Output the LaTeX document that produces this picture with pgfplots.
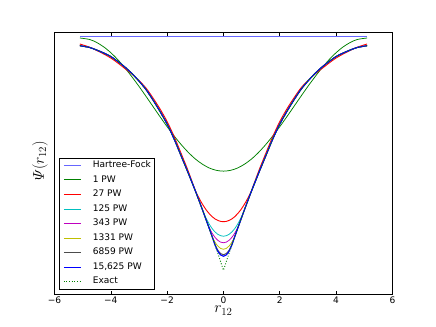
\documentclass[border=0pt]{standalone}
\usepackage[no-math]{fontspec}
\setmainfont{DejaVu Sans}
\usepackage{amsmath}
\usepackage{pgfplots}
\usepackage{pgfplotstable}
\pgfplotsset{compat=1.18}

\definecolor{mplg}{rgb}{0,0.5,0}
\definecolor{mplc}{rgb}{0,0.75,0.75}
\definecolor{mplm}{rgb}{0.75,0,0.75}
\definecolor{mply}{rgb}{0.75,0.75,0}
\definecolor{hfblue}{rgb}{0.4,0.4,1}

% ex = exact, b = 15625 PW, k = 6859, y = 1331, m = 343, c = 125, rd = 27 PW
\pgfplotstableread{
r     ex    b     k     y     m     c     rd
-5.1  248.3 248.3 248.3 248.3 248.3 248.3 250
-4.75 246.5 246.5 246.5 246.5 246.5 246.5 246.8
-4.5  244   244   244   244   244   244   243.5
-4.25 241   241   241   241   241   241   240
-4.0  237.5 237.5 237.5 237.5 237.5 237.5 236
-3.75 232.5 232.5 232.5 232.5 232.5 232.5 231
-3.5  227   227   227   227   227   227   225.5
-3.25 220.5 220.5 220.5 220.5 220.5 220.5 220
-3.0  213   213   213   213   213   213   213.5
-2.75 204.5 204.5 204.5 204.5 204.5 204.5 206
-2.5  194   194   194   194   194   194   196
-2.25 182.5 182.5 182.5 182.5 182.5 182.5 185
-2.0  170   170   170   170   170   170   172.5
-1.75 155   155   155   155   155   155   157.5
-1.5  138   138   138   138   138   138   140.5
-1.25 121   121   121   121   121   121   123
-1.0  103.4 103.4 103.4 103.4 103.4 103.4 103.9
-0.9  96    96    96    96    96    96    97.9
-0.8  88.5  88.5  88.5  88.5  88.5  88.5  92.6
-0.7  80.9  80.9  80.9  80.9  80.9  81.3  87.9
-0.6  73.2  73.2  73.2  73.2  73.3  75.1  83.8
-0.5  65.4  65.4  65.4  65.4  66.4  69.9  80.4
-0.4  57.4  57.4  57.4  57.6  61.0  65.6  77.5
-0.3  49.3  49.3  49.9  52.1  56.9  62.3  75.3
-0.2  41    43.0  44.1  48.2  53.9  59.9  73.8
-0.1  32.5  39.3  40.7  45.8  52.1  58.5  72.8
0     24    38    39.5  45    51.5  58    72.5
0.1   32.5  39.3  40.7  45.8  52.1  58.5  72.8
0.2   41    43.0  44.1  48.2  53.9  59.9  73.8
0.3   49.3  49.3  49.9  52.1  56.9  62.3  75.3
0.4   57.4  57.4  57.4  57.6  61.0  65.6  77.5
0.5   65.4  65.4  65.4  65.4  66.4  69.9  80.4
0.6   73.2  73.2  73.2  73.2  73.3  75.1  83.8
0.7   80.9  80.9  80.9  80.9  80.9  81.3  87.9
0.8   88.5  88.5  88.5  88.5  88.5  88.5  92.6
0.9   96    96    96    96    96    96    97.9
1.0   103.4 103.4 103.4 103.4 103.4 103.4 103.9
1.25  121   121   121   121   121   121   123
1.5   138   138   138   138   138   138   140.5
1.75  155   155   155   155   155   155   157.5
2.0   170   170   170   170   170   170   172.5
2.25  182.5 182.5 182.5 182.5 182.5 182.5 185
2.5   194   194   194   194   194   194   196
2.75  204.5 204.5 204.5 204.5 204.5 204.5 206
3.0   213   213   213   213   213   213   213.5
3.25  220.5 220.5 220.5 220.5 220.5 220.5 220
3.5   227   227   227   227   227   227   225.5
3.75  232.5 232.5 232.5 232.5 232.5 232.5 231
4.0   237.5 237.5 237.5 237.5 237.5 237.5 236
4.25  241   241   241   241   241   241   240
4.5   244   244   244   244   244   244   243.5
4.75  246.5 246.5 246.5 246.5 246.5 246.5 246.8
5.1   248.3 248.3 248.3 248.3 248.3 248.3 250
}\psitab

\pgfplotstableread{
r     g
-5.1  256
-4.75 254.5
-4.5  251.5
-4.25 247.1
-4.0  241.3
-3.75 234.3
-3.5  226.2
-3.25 217.2
-3.0  207.7
-2.75 197.7
-2.5  187.5
-2.25 177.3
-2.0  167.4
-1.75 158.1
-1.5  149.5
-1.25 141.8
-1.0  135.2
-0.75 130.0
-0.5  126.1
-0.25 123.8
0     123
0.25  123.8
0.5   126.1
0.75  130.0
1.0   135.2
1.25  141.8
1.5   149.5
1.75  158.1
2.0   167.4
2.25  177.3
2.5   187.5
2.75  197.7
3.0   207.7
3.25  217.2
3.5   226.2
3.75  234.3
4.0   241.3
4.25  247.1
4.5   251.5
4.75  254.5
5.1   256
}\onepw

\begin{document}
\begin{tikzpicture}
\begin{axis}[
	scale only axis,
	width=448.1pt, height=346.9pt,
	xmin=-6, xmax=6, ymin=0, ymax=261.3,
	xtick={-6,-4,-2,0,2,4,6},
	xticklabels={−6,−4,−2,0,2,4,6},
	ytick=\empty,
	tick align=inside,
	xtick pos=both,
	major tick length=4pt,
	axis line style={line width=1pt},
	tick style={black, line width=0.8pt},
	tick label style={font=\fontsize{12}{14}\selectfont},
	xlabel={$r_{12}$},
	ylabel={$\varPsi(r_{12})$},
	label style={font=\fontsize{20}{24}\selectfont},
	xlabel style={yshift=4pt},
	ylabel style={at={(rel axis cs:-0.012,0.51)}, anchor=south},
	legend cell align=left,
	legend image code/.code={\path (0pt,0pt) -- (3pt,0pt); \draw[#1] (3pt,0pt) -- (22.5pt,0pt);},
	legend style={at={(rel axis cs:0.0134,0.019)}, anchor=south west,
		line width=1pt, font=\fontsize{12}{14}\selectfont,
		inner xsep=5pt, inner ysep=3.6pt, row sep=7.3pt, column sep=15pt,
		nodes={inner sep=0pt, text height=9pt, text depth=3pt}},
]
\coordinate (bbl) at (rel axis cs:-0.16129,-0.125);
\coordinate (btr) at (rel axis cs:1.12903,1.125);

\addplot[hfblue, line width=1.8pt] coordinates {(-5.1,257.3) (5.1,257.3)};
\addlegendentry{Hartree-Fock}

\addplot[mplg, line width=1pt, smooth] table[x=r, y=g] {\onepw};
\addlegendentry{1 PW}

\addplot[red, line width=1.2pt, smooth] table[x=r, y=rd] {\psitab};
\addlegendentry{27 PW}

\addplot[mplc, line width=1pt, smooth] table[x=r, y=c] {\psitab};
\addlegendentry{125 PW}

\addplot[mplm, line width=1pt, smooth] table[x=r, y=m] {\psitab};
\addlegendentry{343 PW}

\addplot[mply, line width=1pt, smooth] table[x=r, y=y] {\psitab};
\addlegendentry{1331 PW}

\addplot[black!70, line width=1.2pt, smooth] table[x=r, y=k] {\psitab};
\addlegendentry{6859 PW}

\addplot[blue, line width=1.5pt, smooth] table[x=r, y=b] {\psitab};
\addlegendentry{15,625 PW}

\addplot[mplg, line width=1.2pt, dash pattern=on 1.2pt off 2.4pt] table[x=r, y=ex] {\psitab};
\addlegendentry{Exact}
\end{axis}
\pgfresetboundingbox
\path[use as bounding box] (bbl) rectangle (btr);
\end{tikzpicture}
\end{document}
